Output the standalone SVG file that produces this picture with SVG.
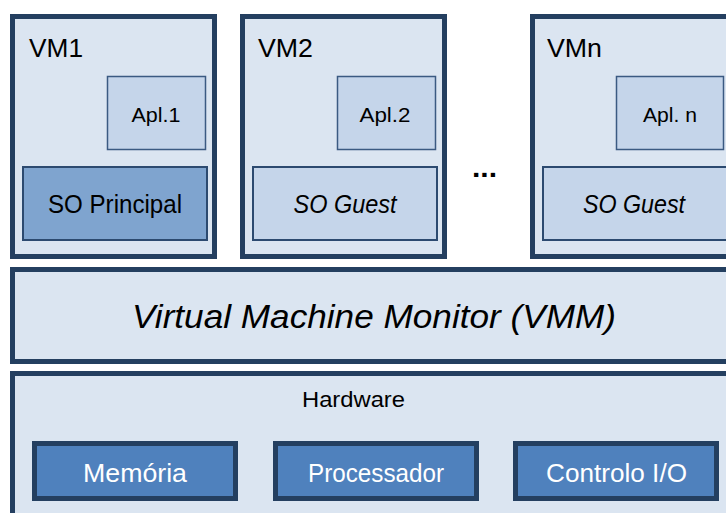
<svg xmlns="http://www.w3.org/2000/svg" width="726" height="513" viewBox="0 0 726 513">
<style>
text{font-family:"Liberation Sans",Arial,sans-serif;fill:#000}
.vm{fill:#dbe5f1;stroke:#243f60;stroke-width:5}
.apl{fill:#c5d5ea;stroke:#3b5a82;stroke-width:1.5}
.so{fill:#c5d5ea;stroke:#2c4a70;stroke-width:2}
.sop{fill:#7fa4cf;stroke:#2c4a70;stroke-width:2}
.layer{fill:#dbe5f1;stroke:#243f60;stroke-width:5}
.hw{fill:#4f81bd;stroke:#243f60;stroke-width:5}
.vml{font-size:25px}
.al{font-size:21px;text-anchor:middle}
.sol{font-size:25px;text-anchor:middle}
.it{font-style:italic}
.hwl{font-size:26px;text-anchor:middle;fill:#fff}
</style>
<rect width="726" height="513" fill="#fff"/>
<g id="vm1">
<rect class="vm" x="12.5" y="16.5" width="202" height="240"/>
<text class="vml" x="29" y="57" textLength="54" lengthAdjust="spacingAndGlyphs">VM1</text>
<rect class="apl" x="107.5" y="76.5" width="98" height="73"/>
<text class="al" x="156" y="122" textLength="49" lengthAdjust="spacingAndGlyphs">Apl.1</text>
<rect class="sop" x="23" y="167" width="184" height="73"/>
<text class="sol" x="115" y="213" textLength="134" lengthAdjust="spacingAndGlyphs">SO Principal</text>
</g>
<g id="vm2">
<rect class="vm" x="242.5" y="16.5" width="202" height="240"/>
<text class="vml" x="258" y="57" textLength="55" lengthAdjust="spacingAndGlyphs">VM2</text>
<rect class="apl" x="337.5" y="76.5" width="98" height="73"/>
<text class="al" x="385" y="122" textLength="51" lengthAdjust="spacingAndGlyphs">Apl.2</text>
<rect class="so" x="253" y="167" width="184" height="73"/>
<text class="sol it" x="345" y="213" textLength="103" lengthAdjust="spacingAndGlyphs">SO Guest</text>
</g>
<g id="ellipsis">
<text x="484.5" y="177" font-size="28" font-weight="bold" text-anchor="middle" textLength="25" lengthAdjust="spacingAndGlyphs">...</text>
</g>
<g id="vmn">
<rect class="vm" x="532.5" y="16.5" width="220" height="240"/>
<text class="vml" x="547" y="57" textLength="55" lengthAdjust="spacingAndGlyphs">VMn</text>
<rect class="apl" x="616.5" y="76.5" width="107" height="73"/>
<text class="al" x="670" y="122" textLength="54" lengthAdjust="spacingAndGlyphs">Apl. n</text>
<rect class="so" x="543" y="167" width="200" height="73"/>
<text class="sol it" x="634" y="213" textLength="102" lengthAdjust="spacingAndGlyphs">SO Guest</text>
</g>
<g id="vmm">
<rect class="layer" x="12.5" y="269.5" width="730" height="92"/>
<text x="374" y="328" font-size="33" font-style="italic" text-anchor="middle" textLength="484" lengthAdjust="spacingAndGlyphs">Virtual Machine Monitor (VMM)</text>
</g>
<g id="hardware">
<rect class="layer" x="12.5" y="373.5" width="730" height="160"/>
<text x="353.5" y="407" font-size="22" text-anchor="middle" textLength="103" lengthAdjust="spacingAndGlyphs">Hardware</text>
</g>
<g id="memoria">
<rect class="hw" x="34.5" y="443.5" width="201" height="55"/>
<text class="hwl" x="135" y="482" textLength="104" lengthAdjust="spacingAndGlyphs">Memória</text>
</g>
<g id="processador">
<rect class="hw" x="275.5" y="443.5" width="201" height="55"/>
<text class="hwl" x="376" y="482" textLength="136" lengthAdjust="spacingAndGlyphs">Processador</text>
</g>
<g id="controlo">
<rect class="hw" x="515.5" y="443.5" width="201" height="55"/>
<text class="hwl" x="616.5" y="482" textLength="141" lengthAdjust="spacingAndGlyphs">Controlo I/O</text>
</g>
<g id="connectors"/>
</svg>
